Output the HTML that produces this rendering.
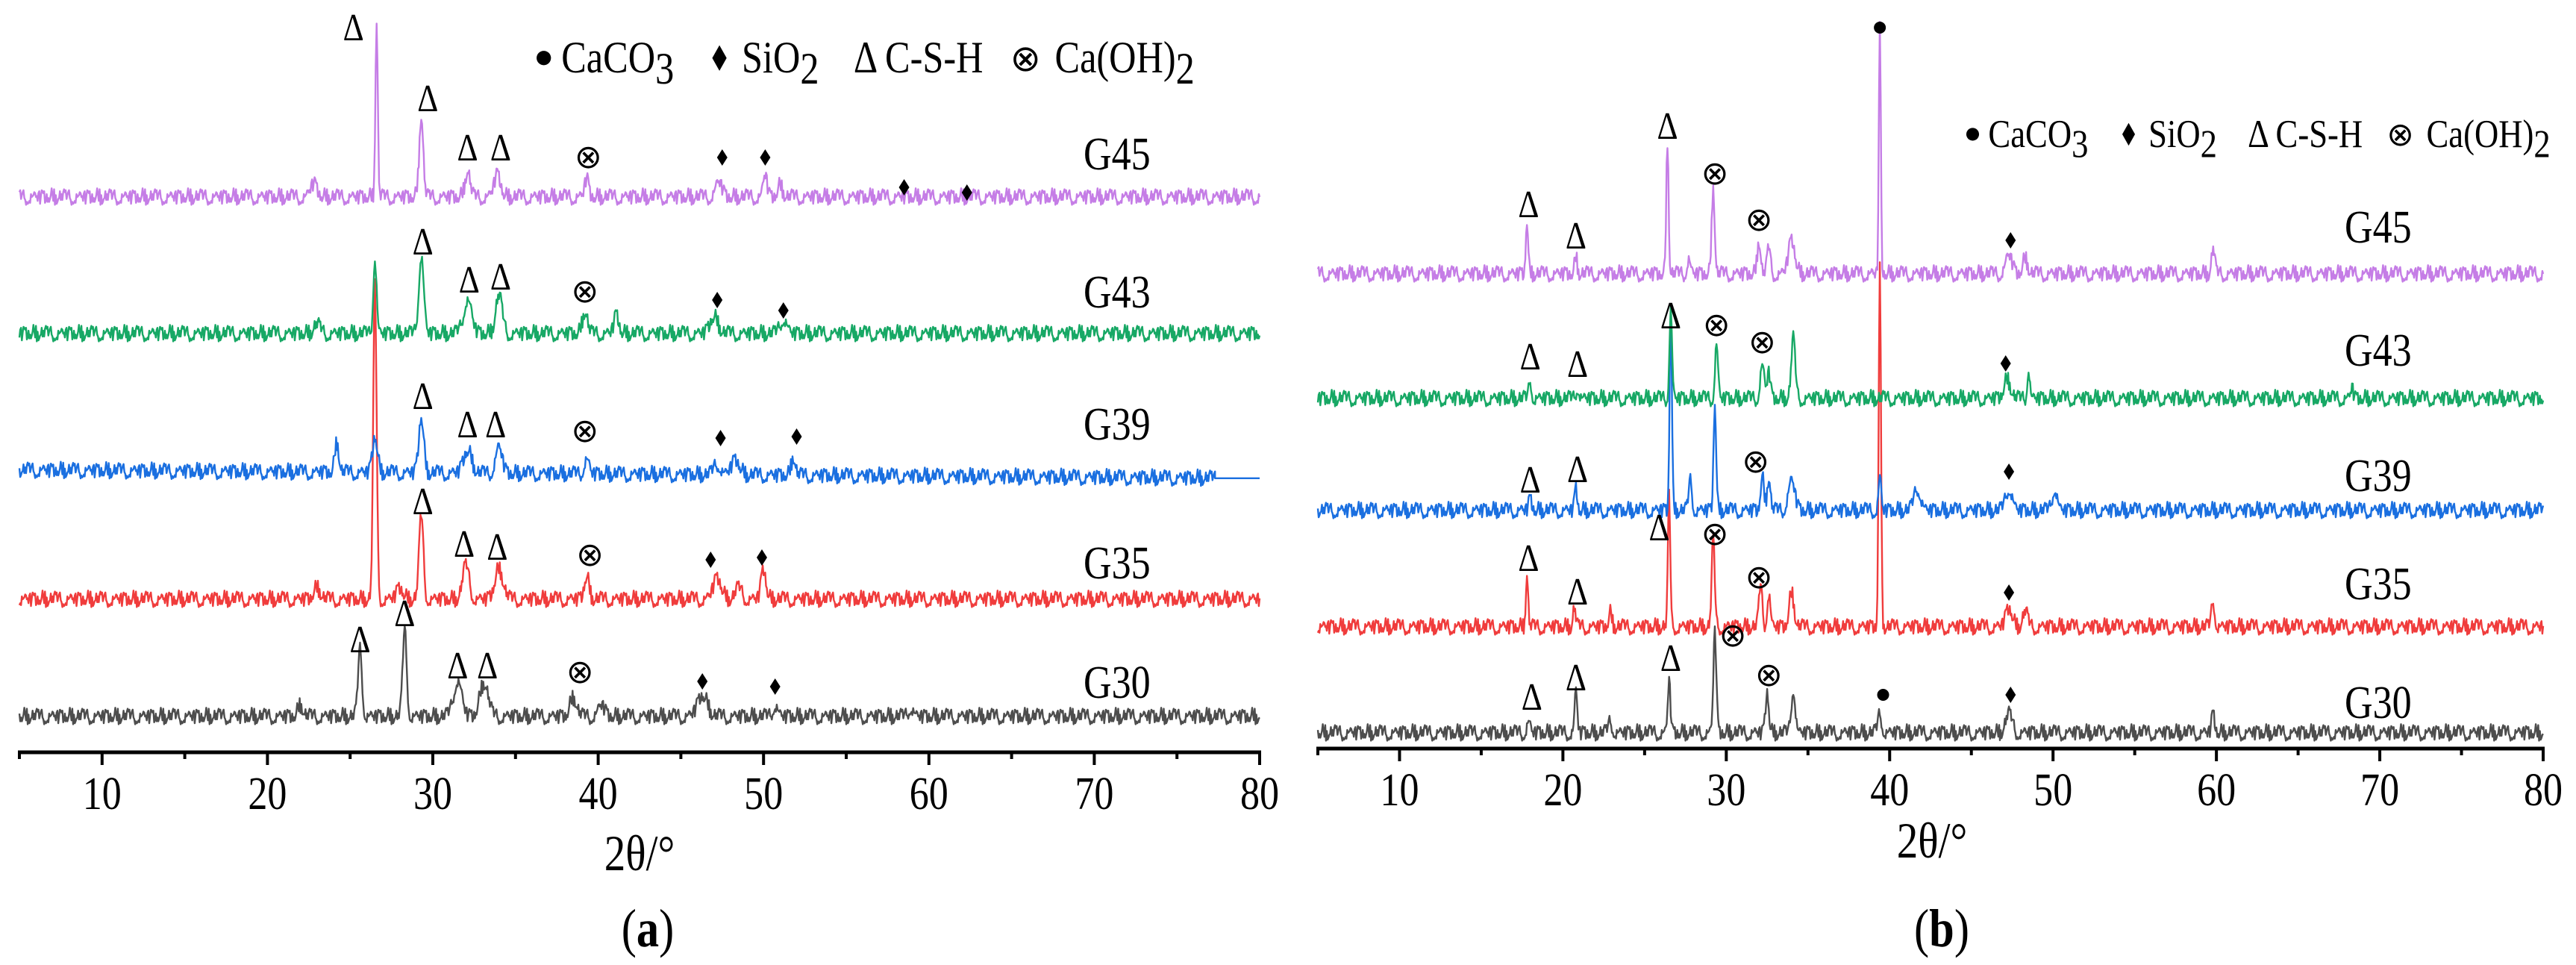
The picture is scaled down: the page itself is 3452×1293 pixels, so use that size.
<!DOCTYPE html>
<html><head><meta charset="utf-8"><style>
html,body{margin:0;padding:0;background:#fff;}
svg{display:block;font-family:"Liberation Serif",serif;}
</style></head><body>
<svg id="fig" width="3452" height="1293" viewBox="0 0 3452 1293" xmlns="http://www.w3.org/2000/svg">
<g id="pa"></g>
<g id="pb"></g>
</svg>
<script>
// ---------- data ----------
const xTicks = [10,20,30,40,50,60,70,80];
const seriesNames = ["G30","G35","G39","G43","G45"];
const seriesColors = ["#4d4d4d","#f03c3c","#1a6fe0","#17a865","#c57de6"];
const aOffsets = [48,205,378,561,744];
const aPeaks = [
 [[22,15,0.15],[25.6,90,0.12],[28.3,115,0.12],[31.5,48,0.25],[33.1,45,0.25],[38.5,25,0.2],[40.2,15,0.2],[46.3,28,0.3],[50.7,15,0.15],[58.9,12,0.15]],
 [[23,15,0.2],[26.5,420,0.1],[28,15,0.2],[29.3,112,0.13],[32,45,0.2],[34,40,0.25],[39.3,30,0.15],[47.2,28,0.25],[50,40,0.15],[48.5,15,0.2]],
 [[24.2,40,0.12],[26.5,48,0.15],[29.3,75,0.15],[32.1,30,0.25],[34,35,0.2],[39.3,20,0.15],[47.2,15,0.2],[48.3,20,0.25],[51.8,25,0.12]],
 [[23,12,0.2],[26.5,102,0.1],[29.3,105,0.15],[32.1,45,0.25],[34,50,0.2],[39.2,30,0.15],[41.1,25,0.15],[47,22,0.25],[51.2,20,0.2]],
 [[22.8,18,0.2],[26.6,235,0.07],[29.3,110,0.12],[32.1,35,0.15],[33.9,30,0.2],[39.3,25,0.12],[47.3,20,0.2],[50.1,30,0.12],[51,15,0.15]]
];
const bOffsets = [21,163,319,469,636];
const bPeaks = [
 [[17.9,15,0.1],[20.8,56,0.08],[22.9,15,0.12],[26.5,70,0.08],[29.3,135,0.09],[32.5,55,0.1],[34.1,60,0.12],[39.4,25,0.12],[47.3,25,0.2],[59.8,25,0.1]],
 [[17.8,71,0.07],[20.7,25,0.08],[22.9,18,0.1],[26.5,175,0.07],[29.2,117,0.09],[32.1,55,0.1],[32.6,45,0.1],[34,45,0.15],[39.4,477,0.07],[47.3,25,0.2],[48.3,20,0.15],[59.8,35,0.1]],
 [[18,15,0.1],[20.8,30,0.08],[26.6,268,0.07],[27.8,40,0.1],[29.3,143,0.08],[32.2,45,0.1],[32.6,45,0.1],[34,40,0.2],[39.4,45,0.08],[41.7,30,0.2],[47.3,30,0.2],[50.1,30,0.15]],
 [[18,25,0.08],[20.9,15,0.1],[26.6,120,0.08],[29.4,73,0.09],[32.2,45,0.12],[32.6,35,0.1],[34.1,80,0.12],[47.2,25,0.2],[48.5,40,0.08],[68.3,15,0.08]],
 [[17.8,72,0.07],[20.8,22,0.08],[26.4,179,0.07],[27.7,20,0.1],[29.2,116,0.09],[32,45,0.1],[32.6,35,0.1],[34,45,0.2],[39.4,330,0.06],[47.3,25,0.2],[48.3,20,0.15],[59.8,33,0.1]]
];
const noise = [3,-4,6,-2,-7,5,1,-5,8,-3,2,-6,4,7,-1,-8,3,5,-4,0,6,-5,2,-3,7,-6,1,4,-2,-7,5,-1,3,-4,6,2,-5,8,-3,0,4,-6,9,-2,5,-8,1,6,-4,3,-1,7,-5,2,-7];
const aMarkers = [
 [4,"d",25.2,971],[4,"d",29.7,876],[4,"d",32.1,810],[4,"d",34.1,810],[4,"o",39.4,798],[4,"s",47.5,797],[4,"s",50.1,797],[4,"s",58.5,757],[4,"s",62.3,750],
 [3,"d",29.4,684],[3,"d",32.2,633],[3,"d",34.1,637],[3,"o",39.2,618],[3,"s",47.2,606],[3,"s",51.2,592],
 [2,"d",29.4,477],[2,"d",32.1,439],[2,"d",33.8,439],[2,"o",39.2,431],[2,"s",47.4,421],[2,"s",52,423],
 [1,"d",29.4,336],[1,"d",31.9,279],[1,"d",33.9,275],[1,"o",39.5,265],[1,"s",46.8,258],[1,"s",49.9,261],
 [0,"d",25.6,151],[0,"d",28.3,186],[0,"d",31.5,116],[0,"d",33.3,116],[0,"o",38.9,108],[0,"s",46.3,95],[0,"s",50.7,88]
];
const bMarkers = [
 [4,"d",17.9,729],[4,"d",20.8,687],[4,"d",26.4,834],[4,"o",29.3,771],[4,"o",32.0,709],[4,"s",47.4,681],[4,"c",39.4,966],
 [3,"d",18.0,525],[3,"d",20.9,515],[3,"d",26.6,580],[3,"o",29.4,568],[3,"o",32.2,545],[3,"s",47.1,516],
 [2,"d",18.0,360],[2,"d",20.9,374],[2,"o",31.8,385],[2,"s",47.3,371],
 [1,"d",17.9,255],[1,"d",20.9,210],[1,"d",25.9,296],[1,"o",29.3,288],[1,"o",32.0,230],[1,"s",47.3,209],
 [0,"d",18.1,69],[0,"d",20.8,95],[0,"d",26.6,121],[0,"o",30.4,152],[0,"o",32.6,99],[0,"c",39.6,72],[0,"s",47.4,72]
];

const NS="http://www.w3.org/2000/svg";
const SX=0.84;
function mk(tag,attrs,parent){const e=document.createElementNS(NS,tag);for(const k in attrs)e.setAttribute(k,attrs[k]);parent.appendChild(e);return e;}
function txt(parent,x,y,size,extra){
  const a=Object.assign({x:0,y:0,"font-size":size,transform:`translate(${x},${y}) scale(${SX},1)`},extra||{});
  return mk("text",a,parent);
}

function drawPanel(g,cfg){
  const xS=v=>cfg.x0+(v-5)*(cfg.x1-cfg.x0)/75;
  const yS=v=>cfg.axisY-v;
  for(let s=0;s<5;s++){
    let d="";let n=0;
    const xEnd = cfg.ends[s];
    for(let t=5;t<=xEnd+1e-6;t+=0.05){
      let v=cfg.offsets[s]+noise[(n*7+s*11)%noise.length]*1.3+cfg.slope[s]*(t-5);
      for(const p of cfg.peaks[s]){const z=(t-p[0])/p[2];v+=p[1]*Math.exp(-0.5*z*z);}
      d+=(n?"L":"M")+xS(t).toFixed(1)+" "+yS(v).toFixed(1);n++;
    }
    if(xEnd<80){const yy=yS(cfg.offsets[s]+cfg.slope[s]*(xEnd-5)).toFixed(1);d+="L"+xS(xEnd).toFixed(1)+" "+yy+"L"+xS(80).toFixed(1)+" "+yy;}
    const p=mk("path",{d:d,fill:"none",stroke:seriesColors[s],"stroke-width":2.4,"stroke-linejoin":"round"},g);
    
    
    const lb=txt(g,cfg.lblX,cfg.lblY[s],62);
    lb.textContent=seriesNames[s];
    
    
  }
  for(const m of cfg.markers){
    const x=xS(m[2]),y=yS(m[3]);
    let e;
    if(m[1]==="d"){e=txt(g,x,y+17,52,{"text-anchor":"middle"});e.textContent="Δ";}
    else if(m[1]==="o"){e=mk("text",{x:x,y:y+15,"font-size":44,"text-anchor":"middle","font-family":"DejaVu Sans"},g);e.textContent="⊗";}
    else if(m[1]==="s"){e=mk("polygon",{points:`${x},${y-11} ${x+7},${y} ${x},${y+11} ${x-7},${y}`,fill:"#000"},g);}
    else {e=mk("circle",{cx:x,cy:y,r:8,fill:"#000"},g);}
    
    
  }
  const ax=mk("line",{x1:cfg.x0-2,x2:cfg.x1+2,y1:cfg.axisY,y2:cfg.axisY,stroke:"#000","stroke-width":5},g);
  
  
  for(let t=5;t<=80;t+=5){
    const tk=mk("line",{x1:xS(t),x2:xS(t),y1:cfg.axisY,y2:cfg.axisY+((t%10===0)?17:9),stroke:"#000","stroke-width":4},g);
    
    
  }
  for(const t of xTicks){
    const tl=txt(g,xS(t),cfg.axisY+76,62,{"text-anchor":"middle"});
    tl.textContent=t;
    
    
  }
  const tt=txt(g,cfg.titleX,cfg.titleY,68,{"text-anchor":"middle"});
  tt.textContent="2θ/°";
  
  
  const pl=txt(g,cfg.capX,1268,72,{"text-anchor":"middle"});
  pl.innerHTML='(<tspan font-weight="bold">'+cfg.cap+'</tspan>)';
  
  
  const lg=mk("g",{transform:`translate(${cfg.legX},${cfg.legY}) scale(${cfg.legS})`},g);
  
  
  mk("circle",{cx:10,cy:-18,r:9,fill:"#000"},lg);
  const t1=txt(lg,32,0,56);t1.innerHTML='CaCO<tspan dy="14">3</tspan>';
  mk("polygon",{points:`230,-34 239,-18 230,-2 221,-18`,fill:"#000"},lg);
  const t2=txt(lg,258,0,56);t2.innerHTML='SiO<tspan dy="14">2</tspan>';
  const t3=txt(lg,398,0,56);t3.textContent='Δ C-S-H';
  const t4=mk("text",{x:594,y:-2,"font-size":46,"font-family":"DejaVu Sans"},lg);t4.textContent='⊗';
  const t5=txt(lg,650,0,56);t5.innerHTML='Ca(OH)<tspan dy="14">2</tspan>';
}

drawPanel(document.getElementById("pa"),{x0:26,x1:1688,axisY:1008,offsets:aOffsets,peaks:aPeaks,
  slope:[0,0,-0.15,0,0],ends:[80,80,77.3,80,80],markers:aMarkers,
  lblX:1452,lblY:[935,775,589,412,227],titleX:857,titleY:1166,capX:868,cap:"a",legX:718,legY:97,legS:1.07});
drawPanel(document.getElementById("pb"),{x0:1766,x1:3408,axisY:1003,offsets:bOffsets,peaks:bPeaks,
  slope:[0,0,0,0,0],ends:[80,80,80,80,80],markers:bMarkers,
  lblX:3142,lblY:[962,803,658,490,325],titleX:2589,titleY:1149,capX:2602,cap:"b",legX:2634,legY:197,legS:0.95});
</script>
</body></html>
